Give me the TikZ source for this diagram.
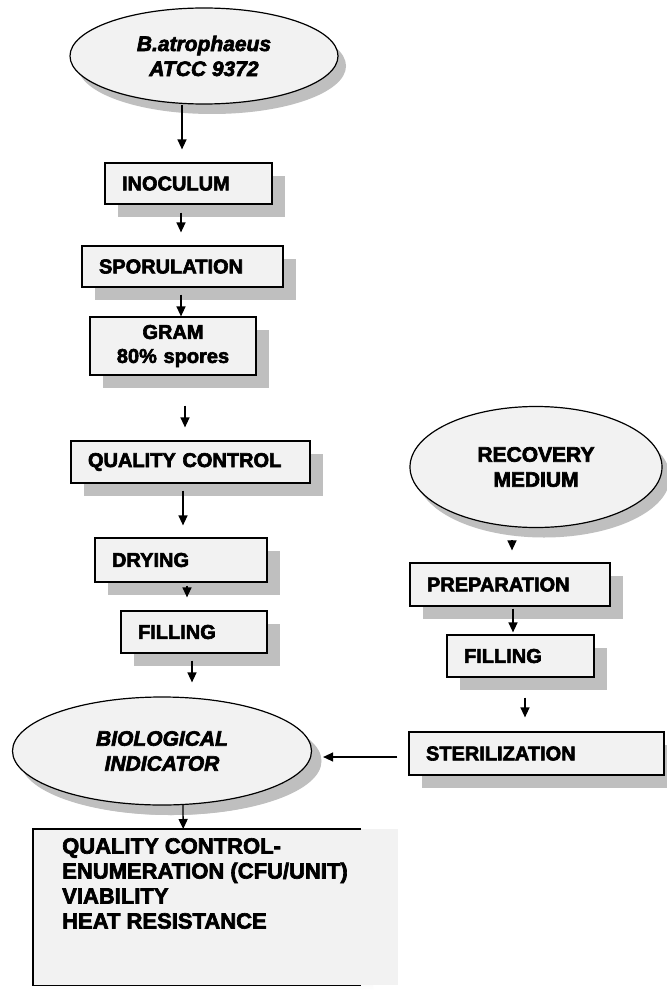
\documentclass[tikz,border=0pt]{standalone}
\usepackage{fontspec}
\setmainfont{Liberation Sans}[BoldFeatures={FakeBold=3},BoldItalicFeatures={FakeBold=3}]
\usetikzlibrary{arrows.meta,calc,shadows,shapes.geometric}
\definecolor{boxfill}{HTML}{F2F2F2}
\definecolor{shade}{HTML}{BFBFBF}
\tikzset{
  boxtxt/.style={font=\bfseries\fontsize{20}{24}\selectfont},
  elltxt/.style={font=\bfseries\fontsize{21}{25}\selectfont},
  procbox/.style={rectangle, draw=black, line width=1.2pt, fill=boxfill, inner ysep=0pt,
    inner xsep=17pt, align=left, boxtxt,
    drop shadow={shadow xshift=13pt, shadow yshift=-13pt, fill=shade, opacity=1}},
  ovalnode/.style={ellipse, draw=black, line width=1.2pt, fill=boxfill, inner sep=0pt,
    align=center, elltxt,
    drop shadow={shadow xshift=8pt, shadow yshift=-10pt, fill=shade, opacity=1}},
  arr/.style={line width=1.3pt, -{Triangle[length=10pt,width=9pt]}}
}
\begin{document}
\begin{tikzpicture}[x=1pt,y=-1pt]
\useasboundingbox[fill=white] (0,0) rectangle (666,992);

% left column
\node[ovalnode, minimum width=268, minimum height=96] (top) at (204,56)
  {\itshape B.atrophaeus\\\itshape ATCC 9372};
\node[procbox, minimum height=41, text width=133] (inoc) at (188.5,183.5) {INOCULUM};
\node[procbox, minimum height=41, text width=167] (spor) at (182.5,266.5) {SPORULATION};
\node[procbox, minimum height=58, text width=132, align=center] (gram) at (173,346) {GRAM\\80\% spores};
\node[procbox, minimum height=42, text width=205] (qc) at (190.5,462) {QUALITY CONTROL};
\node[procbox, minimum height=44, text width=138] (dry) at (181,560) {DRYING};
\node[procbox, minimum height=42, text width=112] (fillL) at (194,632) {FILLING};
\node[ovalnode, minimum width=299, minimum height=108, drop shadow={shadow xshift=10pt, shadow yshift=-10pt, fill=shade, opacity=1}] (bi) at (162,751)
  {\itshape BIOLOGICAL\\\itshape INDICATOR};

% right column
\node[ovalnode, minimum width=252, minimum height=121, drop shadow={shadow xshift=6pt, shadow yshift=-8pt, fill=shade, opacity=1}] (rec) at (536,467)
  {RECOVERY\\MEDIUM};
\node[procbox, minimum height=43, text width=166] (prep) at (510,584.5) {PREPARATION};
\node[procbox, minimum height=42, text width=113] (fillR) at (520.5,656) {FILLING};
\node[procbox, minimum height=43, text width=221] (ster) at (536.5,753.5) {STERILIZATION};

% final box
\fill[shade] (40,834) rectangle (373,990);
\node[rectangle, fill=boxfill, minimum width=365, minimum height=156, inner sep=0pt, anchor=north west] (fin) at (33,829) {};
\draw[line width=1.2pt] ($(fin.north west)+(328,0)$) -- (fin.north west) -- (fin.south west) -- ($(fin.south west)+(328,0)$);
\node[anchor=north west, align=left, font=\bfseries\fontsize{22}{25}\selectfont, inner sep=0pt] (fintxt) at (62,838)
  {QUALITY CONTROL-\\ENUMERATION (CFU/UNIT)\\VIABILITY\\HEAT RESISTANCE};

% connectors
\draw[arr] ($(top.south)+(-22,0)$) -- ($(inoc.north)+(-6.5,-13)$);
\draw[arr] ($(inoc.south)+(-7.5,8)$) -- ($(spor.north)+(-1.5,-13)$);
\draw[arr] ($(spor.south)+(-1.5,7)$) -- ($(gram.north)+(8,0)$);
\draw[arr] ($(gram.south)+(12,30)$) -- ($(qc.north)+(-5.5,-13)$);
\draw[arr] ($(qc.south)+(-7.5,7)$) -- ($(dry.north)+(2,-12)$);
\draw[arr] ($(dry.south)+(6,3)$) -- ($(fillL.north)+(-7,-13)$);
\draw[arr] ($(fillL.south)+(-2,7)$) -- ($(bi.north)+(30,-14)$);
\draw[arr] ($(bi.south)+(21,-1)$) -- ($(fin.north)+(-32.5,0)$);
\draw[arr] ($(rec.south)+(-24,12)$) -- ($(prep.north)+(2,-12)$);
\draw[arr] ($(prep.south)+(3,2)$) -- ($(fillR.north)+(-7.5,-2)$);
\draw[arr] ($(fillR.south)+(4.5,20)$) -- ($(ster.north)+(-11.5,-14)$);
\draw[arr] ($(ster.west)+(-11,3.5)$) -- ($(bi.east)+(11,6)$);
\end{tikzpicture}
\end{document}
